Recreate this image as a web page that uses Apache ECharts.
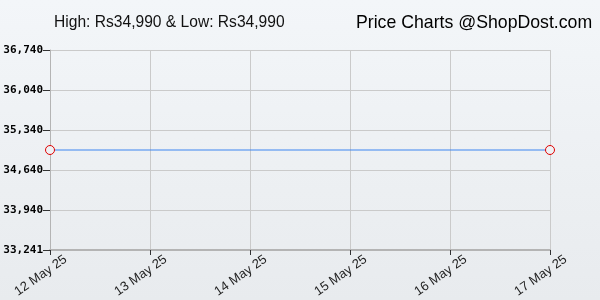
<!DOCTYPE html>
<html><head><meta charset="utf-8">
<script src="https://cdn.jsdelivr.net/npm/echarts@6/dist/echarts.min.js"></script>
<style>html,body{margin:0;padding:0;}#c{width:600px;height:300px;}</style>
</head><body><div id="c"></div>
<script>
var dateLabels = ['12 May 25','13 May 25','14 May 25','15 May 25','16 May 25','17 May 25'];
var dayIndex = [0, 1, 2, 3, 4, 5];
var prices = [34990, 34990, 34990, 34990, 34990, 34990];
var yTickValues = [33240, 33940, 34640, 35340, 36040, 36740];
var yTickLabels = ['33,241','33,940','34,640','35,340','36,040','36,740'];
var titleLeft = 'High: Rs34,990 & Low: Rs34,990';
var titleRight = 'Price Charts @ShopDost.com';

var data = dayIndex.map(function (d, i) {
  var item = { value: [d, prices[i]] };
  if (i === 0 || i === dayIndex.length - 1) {
    item.symbol = 'circle';
    item.symbolSize = 9;
    item.itemStyle = { color: '#eef1f4', borderColor: '#e00000', borderWidth: 1 };
  } else {
    item.symbol = 'none';
  }
  return item;
});

var chart = echarts.init(document.getElementById('c'), null, { renderer: 'canvas' });
chart.setOption({
  animation: false,
  backgroundColor: {
    type: 'linear', x: 0, y: 0, x2: 0, y2: 1,
    colorStops: [{ offset: 0, color: '#f3f6f9' }, { offset: 1, color: '#e8ebee' }]
  },
  title: [
    { text: titleLeft, left: 49, top: 10,
      textStyle: { fontFamily: 'Liberation Sans, Arial', fontSize: 15.6, fontWeight: 'normal', color: '#111' } },
    { text: titleRight, left: 351, top: 9,
      textStyle: { fontFamily: 'Liberation Sans, Arial', fontSize: 17.7, fontWeight: 'normal', color: '#000' } }
  ],
  grid: [
    { left: 50, right: 50, top: 50, bottom: 50 },
    { left: 62, right: 38, top: 50, bottom: 50 }
  ],
  xAxis: [{
    type: 'value', min: 0, max: 5, interval: 1, gridIndex: 0,
    axisLine: { show: true, lineStyle: { color: '#b4b4b4', width: 2 } },
    axisTick: { show: true, length: 5, lineStyle: { color: '#333' } },
    splitLine: { show: true, lineStyle: { color: '#cacaca', width: 1 } },
    axisLabel: { show: false }
  }, {
    type: 'value', min: 0, max: 5, interval: 1, gridIndex: 1,
    axisLine: { show: false }, axisTick: { show: false }, splitLine: { show: false },
    axisLabel: {
      rotate: 35, margin: 5, align: 'right', verticalAlign: 'top',
      fontFamily: 'Liberation Sans, Arial', fontSize: 13, color: '#222',
      formatter: function (v) { return dateLabels[Math.round(v)] || ''; }
    }
  }],
  yAxis: [{
    type: 'value', min: 33240, max: 36740, interval: 700, gridIndex: 0,
    axisLine: { show: true, lineStyle: { color: '#b4b4b4', width: 1 } },
    axisTick: { show: true, length: 7, lineStyle: { color: '#333' } },
    splitLine: { show: true, lineStyle: { color: '#cacaca', width: 1 } },
    axisLabel: {
      margin: 7,
      fontFamily: 'DejaVu Sans Mono', fontWeight: 'bold', fontSize: 11, color: '#000',
      formatter: function (v) {
        var i = yTickValues.indexOf(Math.round(v));
        return i >= 0 ? yTickLabels[i] : '';
      }
    }
  }, {
    type: 'value', min: 33240, max: 36740, gridIndex: 1, show: false
  }],
  series: [{
    type: 'line', data: data, xAxisIndex: 0, yAxisIndex: 0,
    lineStyle: { color: '#3d85f0', width: 1 },
    showAllSymbol: true
  }]
});
</script></body></html>
